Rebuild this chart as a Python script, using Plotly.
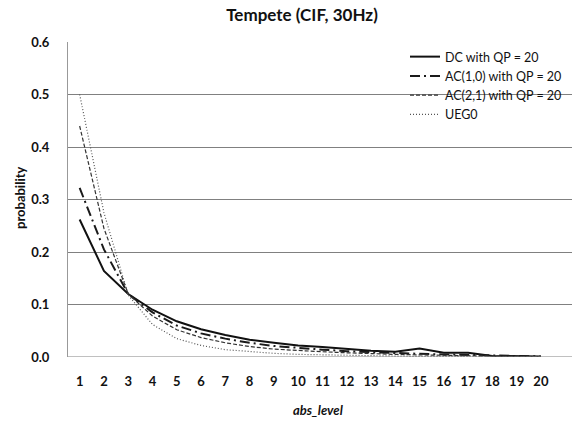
import plotly.graph_objects as go

levels = list(range(1, 21))
dc = [0.262, 0.164, 0.120, 0.090, 0.068, 0.053, 0.042, 0.033, 0.027, 0.022,
      0.019, 0.015, 0.012, 0.010, 0.016, 0.008, 0.008, 0.002, 0.001, 0.001]
ac10 = [0.322, 0.205, 0.120, 0.085, 0.060, 0.045, 0.035, 0.027, 0.021, 0.017,
        0.014, 0.011, 0.009, 0.007, 0.006, 0.005, 0.004, 0.002, 0.001, 0.001]
ac21 = [0.440, 0.245, 0.120, 0.078, 0.052, 0.037, 0.027, 0.020, 0.015, 0.012,
        0.010, 0.008, 0.006, 0.005, 0.004, 0.003, 0.002, 0.001, 0.001, 0.001]
ueg0 = [0.500, 0.275, 0.118, 0.062, 0.035, 0.022, 0.014, 0.010, 0.007, 0.005,
        0.004, 0.003, 0.002, 0.001, 0.001, 0.001, 0.000, 0.000, 0.000, 0.000]
y_ticks = [0.0, 0.1, 0.2, 0.3, 0.4, 0.5, 0.6]

FONT = "Lato"
L, R, T, B = 68, 0, 42, 64
W, H = 572, 421
plot_w = W - L - R
plot_h = H - T - B

fig = go.Figure()
fig.add_trace(go.Scatter(x=levels, y=dc, mode="lines", name="DC with QP = 20",
                         line=dict(color="#111111", width=2, dash="solid")))
fig.add_trace(go.Scatter(x=levels, y=ac10, mode="lines", name="AC(1,0) with QP = 20",
                         line=dict(color="#1a1a1a", width=2, dash="10px,4px,2px,4px")))
fig.add_trace(go.Scatter(x=levels, y=ac21, mode="lines", name="AC(2,1) with QP = 20",
                         line=dict(color="#333333", width=1.2, dash="4px,2px")))
fig.add_trace(go.Scatter(x=levels, y=ueg0, mode="lines", name="UEG0",
                         line=dict(color="#555555", width=1.2, dash="1px,2px")))

fig.update_layout(
    width=W, height=H,
    margin=dict(l=L, r=R, t=T, b=B),
    paper_bgcolor="white", plot_bgcolor="white",
    font=dict(family=FONT, size=13, color="#111111"),
    title=dict(text="<b>Tempete (CIF, 30Hz)</b>", x=302 / W, xanchor="center",
               y=1 - 15 / H, yanchor="middle", font=dict(size=17, family=FONT)),
    showlegend=True,
    legend=dict(x=(405 - L) / plot_w, y=1.0, xanchor="left", yanchor="top",
                bgcolor="rgba(255,255,255,0)", font=dict(size=12.5, family=FONT),
                tracegroupgap=0, itemwidth=30),
    xaxis=dict(range=[0.52, 21.28], tickmode="array", tickvals=levels,
               ticktext=[f"<b>{v}</b>" for v in levels],
               showgrid=False, zeroline=False, showline=False,
               ticks="", ticklabelstandoff=15, tickfont=dict(size=13)),
    yaxis=dict(range=[0, 0.6], tickmode="array", tickvals=y_ticks,
               ticktext=[f"<b>{v:.1f}</b>" for v in y_ticks],
               showgrid=True, gridcolor="#808080", gridwidth=1,
               zeroline=False, showline=True, linecolor="#999999", linewidth=1,
               ticks="", ticklabelstandoff=15, tickfont=dict(size=13)),
    annotations=[
        dict(text="<b><i>abs_level</i></b>", xref="paper", yref="paper",
             x=(318 - L) / plot_w, y=-(410 - (H - B)) / plot_h,
             xanchor="center", yanchor="middle",
             showarrow=False, font=dict(size=13, family=FONT)),
        dict(text="<b>probability</b>", xref="paper", yref="paper",
             x=-(L - 20) / plot_w, y=((H - B) - 198) / plot_h,
             xanchor="center", yanchor="middle",
             showarrow=False, textangle=-90, font=dict(size=13, family=FONT)),
    ],
)
fig.add_hline(y=0, line=dict(color="#808080", width=1))

fig.write_html("out.html")
